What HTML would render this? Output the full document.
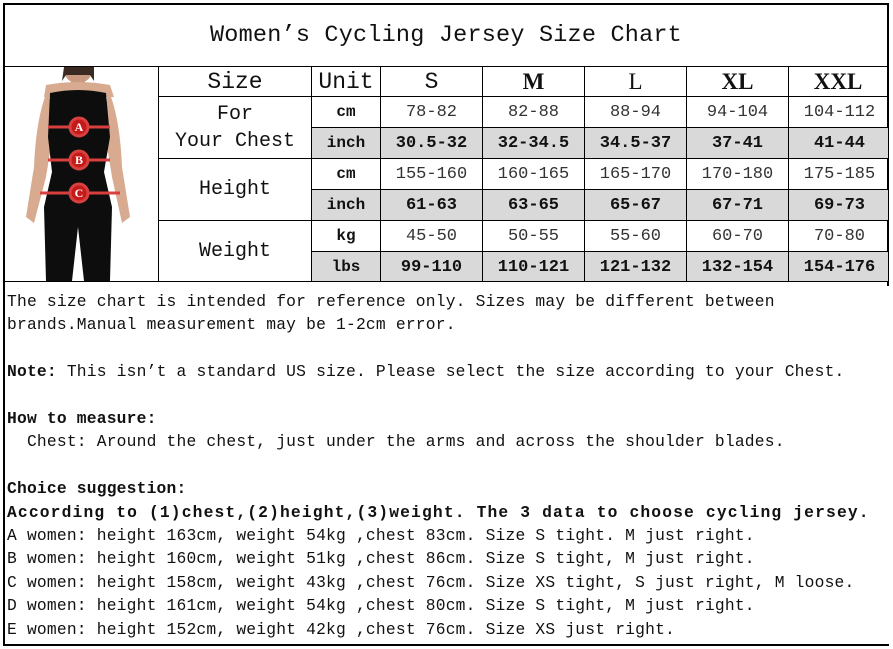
<!DOCTYPE html>
<html><head><meta charset="utf-8"><style>
body{margin:0;width:893px;height:649px;background:#fff;position:relative;overflow:hidden;font-family:"Liberation Mono","Noto Serif CJK SC",monospace;color:#111}
.a{position:absolute}
.h{position:absolute;background:#000}
.c{position:absolute;display:flex;align-items:center;justify-content:center;text-align:center}
.g{position:absolute;background:#d9d9d9}
.t{position:absolute;left:7px;font-size:16.3px;height:22px;line-height:22px;white-space:pre;letter-spacing:0.2px}
b{font-weight:bold}
</style></head><body>
<div class="h" style="left:3px;top:3px;width:886px;height:2px"></div>
<div class="h" style="left:3px;top:3px;width:2px;height:643px"></div>
<div class="h" style="left:887px;top:3px;width:2px;height:283px"></div>
<div class="h" style="left:3px;top:644px;width:886px;height:2px"></div>
<div class="c" style="left:5px;top:5px;width:882px;height:61px;font-size:23.5px;letter-spacing:0.2px">Women’s Cycling Jersey Size Chart</div>
<div class="h" style="left:3px;top:66px;width:886px;height:1px"></div>
<div class="g" style="left:311px;top:127px;width:577px;height:31px"></div>
<div class="g" style="left:311px;top:189px;width:577px;height:31px"></div>
<div class="g" style="left:311px;top:251px;width:577px;height:30px"></div>
<div class="h" style="left:158px;top:96px;width:730px;height:1px"></div>
<div class="h" style="left:311px;top:127px;width:577px;height:1px"></div>
<div class="h" style="left:158px;top:158px;width:730px;height:1px"></div>
<div class="h" style="left:311px;top:189px;width:577px;height:1px"></div>
<div class="h" style="left:158px;top:220px;width:730px;height:1px"></div>
<div class="h" style="left:311px;top:251px;width:577px;height:1px"></div>
<div class="h" style="left:3px;top:281px;width:886px;height:1px"></div>
<div class="h" style="left:158px;top:66px;width:1px;height:215px"></div>
<div class="h" style="left:311px;top:66px;width:1px;height:215px"></div>
<div class="h" style="left:380px;top:66px;width:1px;height:215px"></div>
<div class="h" style="left:482px;top:66px;width:1px;height:215px"></div>
<div class="h" style="left:584px;top:66px;width:1px;height:215px"></div>
<div class="h" style="left:686px;top:66px;width:1px;height:215px"></div>
<div class="h" style="left:788px;top:66px;width:1px;height:215px"></div>
<svg class="a" style="left:20px;top:67px" width="136" height="214" viewBox="0 0 136 214">
<ellipse cx="58" cy="6" rx="13" ry="10" fill="#c99a80"/>
<path d="M44 0 L74 0 L74 14 L70 8 L46 8 L42 14Z" fill="#3a2a22"/>
<rect x="51" y="10" width="14" height="10" fill="#c99a80"/>
<path d="M26 18 Q58 12 90 18 L94 30 L24 30Z" fill="#d8aa90"/>
<path d="M28 22 Q16 50 14 100 L6 150 L14 156 L26 110 L34 60Z" fill="#d8aa90"/>
<path d="M88 22 Q100 50 102 100 L110 150 L102 156 L92 110 L84 60Z" fill="#d8aa90"/>
<path d="M30 26 Q58 20 86 26 L90 70 L84 105 L92 140 L90 214 L64 214 L58 160 L52 214 L26 214 L24 140 L32 105 L28 70Z" fill="#0d0d0d"/>
<g stroke="#d84040" stroke-width="3" fill="#c51a1a">
<line x1="28" y1="60" x2="90" y2="60"/><line x1="28" y1="93" x2="90" y2="93"/><line x1="20" y1="126" x2="100" y2="126"/>
<circle cx="59" cy="60" r="9"/><circle cx="59" cy="93" r="9"/><circle cx="59" cy="126" r="9"/>
</g>
<g fill="#fff" font-family="Liberation Serif" font-weight="bold" font-size="12" text-anchor="middle">
<text x="59" y="64">A</text><text x="59" y="97">B</text><text x="59" y="130">C</text></g>
</svg>
<div class="c" style="left:159px;top:67px;width:152px;height:29px;font-size:23px">Size</div>
<div class="c" style="left:312px;top:67px;width:68px;height:29px;font-size:23px">Unit</div>
<div class="c" style="left:381px;top:67px;width:101px;height:29px;font-size:23px">S</div>
<div class="c" style="left:483px;top:67px;width:101px;height:29px;font:bold 23px 'Liberation Serif',serif">M</div>
<div class="c" style="left:585px;top:67px;width:101px;height:29px;font:23px 'Liberation Serif',serif">L</div>
<div class="c" style="left:687px;top:67px;width:101px;height:29px;font:bold 23px 'Liberation Serif',serif">XL</div>
<div class="c" style="left:789px;top:67px;width:98px;height:29px;font:bold 23px 'Liberation Serif',serif">XXL</div>
<div class="c" style="left:159px;top:97px;width:152px;height:61px;font-size:20px;line-height:27px">For<br>Your Chest</div>
<div class="c" style="left:159px;top:159px;width:152px;height:61px;font-size:20px">Height</div>
<div class="c" style="left:159px;top:221px;width:152px;height:60px;font-size:20px">Weight</div>
<div id="rows"></div>
<script>
var rows=[["cm",0,["78-82","82-88","88-94","94-104","104-112"]],["inch",1,["30.5-32","32-34.5","34.5-37","37-41","41-44"]],["cm",0,["155-160","160-165","165-170","170-180","175-185"]],["inch",1,["61-63","63-65","65-67","67-71","69-73"]],["kg",1,["45-50","50-55","55-60","60-70","70-80"]],["lbs",1,["99-110","110-121","121-132","132-154","154-176"]]];
var tops=[97,128,159,190,221,252],xs=[381,483,585,687,789],h="";
rows.forEach(function(r,i){var bold=(i%2==1);
h+='<div class="c" style="left:312px;top:'+tops[i]+'px;width:68px;height:30px;font-size:16px;font-weight:bold">'+r[0]+'</div>';
r[2].forEach(function(v,j){h+='<div class="c" style="left:'+xs[j]+'px;top:'+tops[i]+'px;width:101px;height:30px;font-size:17px;'+(bold?'font-weight:bold;':'color:#333;')+'">'+v+'</div>';});});
document.getElementById('rows').innerHTML=h;
</script>
<div class="t" style="top:291px">The size chart is intended for reference only. Sizes may be different between</div>
<div class="t" style="top:314px">brands.Manual measurement may be 1-2cm error.</div>
<div class="t" style="top:361px"><b>Note:</b> This isn’t a standard US size. Please select the size according to your Chest.</div>
<div class="t" style="top:408px"><b>How to measure:</b></div>
<div class="t" style="top:431px">  Chest: Around the chest, just under the arms and across the shoulder blades.</div>
<div class="t" style="top:478px"><b>Choice suggestion:</b></div>
<div class="t" style="top:502px;letter-spacing:1.15px"><b>According to (1)chest,(2)height,(3)weight. The 3 data to choose cycling jersey.</b></div>
<div class="t" style="top:525px">A women: height 163cm, weight 54kg ,chest 83cm. Size S tight. M just right.</div>
<div class="t" style="top:548px">B women: height 160cm, weight 51kg ,chest 86cm. Size S tight, M just right.</div>
<div class="t" style="top:572px">C women: height 158cm, weight 43kg ,chest 76cm. Size XS tight, S just right, M loose.</div>
<div class="t" style="top:595px">D women: height 161cm, weight 54kg ,chest 80cm. Size S tight, M just right.</div>
<div class="t" style="top:619px">E women: height 152cm, weight 42kg ,chest 76cm. Size XS just right.</div>
</body></html>
